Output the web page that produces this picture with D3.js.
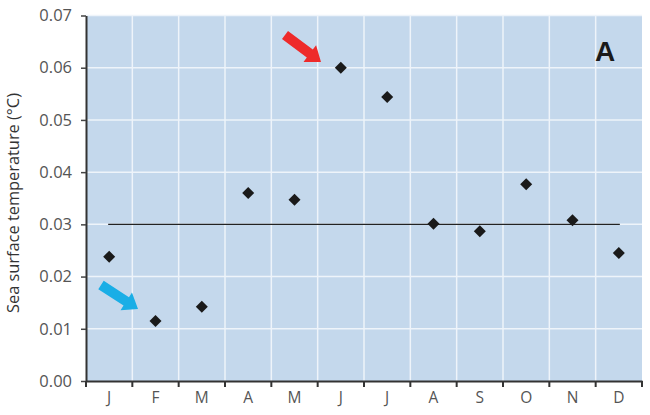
<!DOCTYPE html>
<html>
<head>
  <meta charset="utf-8">
  <script src="https://d3js.org/d3.v7.min.js"></script>
  <style>
    body { margin: 0; background: #fff; font-family: 'Open Sans', sans-serif; }
  </style>
</head>
<body>
  <div id="my_dataviz"></div>
  <script>
    // data
    var months = ["J", "F", "M", "A", "M", "J", "J", "A", "S", "O", "N", "D"];
    var sst = [0.0238, 0.0115, 0.0142, 0.0360, 0.0347, 0.0600, 0.0544, 0.0301, 0.0287, 0.0377, 0.0308, 0.0245];
    var meanValue = [0.030];
    var yTicks = [0, 0.01, 0.02, 0.03, 0.04, 0.05, 0.06, 0.07];

    var margin = {top: 15.5, right: 8, bottom: 34, left: 86},
      width = 650 - margin.left - margin.right,
      height = 415 - margin.top - margin.bottom;

    var svg = d3.select("#my_dataviz")
      .append("svg")
      .attr("width", 650)
      .attr("height", 415)
      .append("g")
      .attr("transform", "translate(" + margin.left + "," + margin.top + ")");

    var x = d3.scaleBand()
      .domain(d3.range(months.length))
      .range([0, width]);

    var y = d3.scaleLinear()
      .domain([0, 0.07])
      .range([height, 0]);

    // background
    svg.append("rect")
      .attr("width", width)
      .attr("height", height)
      .attr("fill", "#c4d8ec");

    // grid
    svg.selectAll(".hgrid")
      .data(yTicks.slice(1))
      .enter().append("line")
      .attr("x1", 0).attr("x2", width)
      .attr("y1", function (d) { return y(d); })
      .attr("y2", function (d) { return y(d); })
      .attr("stroke", "#eef4fa")
      .attr("stroke-width", 1.5);
    svg.selectAll(".vgrid")
      .data(d3.range(1, months.length))
      .enter().append("line")
      .attr("x1", function (d) { return x(d); })
      .attr("x2", function (d) { return x(d); })
      .attr("y1", 0).attr("y2", height)
      .attr("stroke", "#eef4fa")
      .attr("stroke-width", 1.5);

    // mean line
    svg.selectAll(".mean")
      .data(meanValue)
      .enter().append("line")
      .attr("x1", x(0) + x.bandwidth() / 2 - 1)
      .attr("x2", x(months.length - 1) + x.bandwidth() / 2 + 1)
      .attr("y1", function (d) { return y(d); })
      .attr("y2", function (d) { return y(d); })
      .attr("stroke", "#222")
      .attr("stroke-width", 1.3);

    // Y axis
    var yAxis = svg.append("g")
      .call(d3.axisLeft(y).tickValues(yTicks).tickFormat(d3.format(".2f")).tickSize(5).tickSizeOuter(0));
    yAxis.select(".domain").attr("stroke", "#333").attr("stroke-width", 2);
    yAxis.selectAll(".tick line").attr("stroke", "#444").attr("stroke-width", 1.5);
    yAxis.selectAll("text")
      .attr("x", -14)
      .attr("fill", "#555")
      .style("font-family", "'Open Sans', sans-serif")
      .style("font-size", "16.5px");

    // X axis
    var xAxis = svg.append("g")
      .attr("transform", "translate(0," + height + ")")
      .call(d3.axisBottom(x).tickFormat(function (d) { return months[d]; }).tickSize(0));
    xAxis.select(".domain").attr("stroke", "#333").attr("stroke-width", 2);
    xAxis.selectAll("text")
      .attr("y", 11)
      .attr("dy", "0.71em")
      .attr("fill", "#555")
      .style("font-family", "'Open Sans', sans-serif")
      .style("font-size", "15.5px");
    xAxis.selectAll(".bnd")
      .data(d3.range(0, months.length + 1))
      .enter().append("line")
      .attr("x1", function (d) { return d * x.bandwidth(); })
      .attr("x2", function (d) { return d * x.bandwidth(); })
      .attr("y1", 0).attr("y2", 6)
      .attr("stroke", "#333")
      .attr("stroke-width", 2);

    // Y label
    svg.append("text")
      .attr("transform", "rotate(-90)")
      .attr("x", -(203 - margin.top))
      .attr("y", -margin.left + 19)
      .style("text-anchor", "middle")
      .style("font-family", "'Open Sans', sans-serif")
      .style("font-size", "15.5px")
      .attr("textLength", 220)
      .attr("lengthAdjust", "spacingAndGlyphs")
      .attr("fill", "#333")
      .text("Sea surface temperature (°C)");

    // diamonds
    svg.selectAll(".pt")
      .data(sst)
      .enter().append("path")
      .attr("d", d3.symbol().type(d3.symbolSquare).size(72))
      .attr("transform", function (d, i) {
        return "translate(" + (x(i) + x.bandwidth() / 2) + "," + y(d) + ")rotate(45)";
      })
      .attr("fill", "#1a1a1a");

    // arrows
    function arrow(x0, y0, x1, y1, color) {
      var ang = Math.atan2(y1 - y0, x1 - x0) * 180 / Math.PI;
      var len = Math.hypot(x1 - x0, y1 - y0);
      var g = svg.append("g")
        .attr("transform", "translate(" + (x0 - margin.left) + "," + (y0 - margin.top) + ")rotate(" + ang + ")");
      g.append("path")
        .attr("d", "M0,-5 L" + (len - 14) + ",-5 L" + (len - 14) + ",-10.5 L" + len + ",0 L" + (len - 14) + ",10.5 L" + (len - 14) + ",5 L0,5 Z")
        .attr("fill", color);
    }
    arrow(285, 35, 321, 62, "#ee2a2a");
    arrow(101, 285, 138, 309, "#1aaee6");

    // panel letter
    svg.append("text")
      .attr("x", 605 - margin.left)
      .attr("y", 61 - margin.top)
      .style("text-anchor", "middle")
      .style("font-family", "'Liberation Sans', Arial, sans-serif")
      .style("font-weight", "bold")
      .style("font-size", "28px")
      .attr("fill", "#1a1a1a")
      .text("A");
  </script>
</body>
</html>
